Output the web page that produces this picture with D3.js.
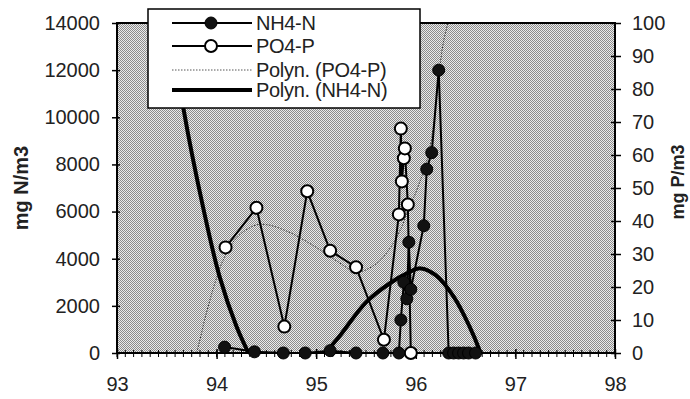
<!DOCTYPE html>
<html><head><meta charset="utf-8">
<script src="https://cdn.jsdelivr.net/npm/d3@7"></script>
<style>html,body{margin:0;padding:0;background:#fff;}svg{display:block;}</style>
</head><body>
<script>
// ---- data ----
const xTicks = [93, 94, 95, 96, 97, 98];
const yLeftTicks = [0, 2000, 4000, 6000, 8000, 10000, 12000, 14000];
const yRightTicks = [0, 10, 20, 30, 40, 50, 60, 70, 80, 90, 100];
const seriesNames = ["NH4-N", "PO4-P", "Polyn. (PO4-P)", "Polyn. (NH4-N)"];

const nh4Dates  = [94.08, 94.38, 94.67, 94.89, 95.14, 95.40, 95.67, 95.83, 95.85, 95.88, 95.91, 95.93, 95.95, 96.08, 96.11, 96.16, 96.23, 96.33, 96.38, 96.43, 96.48, 96.53, 96.60];
const nh4Values = [250,   50,    0,     0,     100,   0,     0,     0,     1400,  3000,  2300,  4700,  2700,  5400,  7800,  8500,  12000, 0,     0,     0,     0,     0,     0];

const po4Dates  = [94.09, 94.40, 94.68, 94.91, 95.14, 95.40, 95.68, 95.83, 95.85, 95.86, 95.88, 95.89, 95.92, 95.95];
const po4Values = [32,    44,    8,     49,    31,    26,    4,     42,    68,    52,    59,    62,    45,    0];

const nh4TrendDates  = [93.45, 93.67, 93.87, 94.03, 94.20, 94.32, 94.50, 94.80, 95.00, 95.10, 95.25, 95.50, 95.74, 95.92, 96.05, 96.20, 96.38, 96.54, 96.64, 96.72];
const nh4TrendValues = [16500, 10300, 6070,  3240,  1120,  0,     -1500, -2000, -800,  0,     800,   2150,  2960,  3400,  3590,  3300,  2390,  1120,  120,   -900];

const po4TrendDates  = [93.74, 93.80, 93.88, 93.97, 94.05, 94.15, 94.28, 94.44, 94.70, 95.00, 95.20, 95.41, 95.60, 95.74, 95.84, 95.92, 96.03, 96.14, 96.27, 96.32, 96.36];
const po4TrendValues = [-6,    0,     10,    20,    27,    33,    37,    39,    37,    32,    28,    24.6,  27,    31.7,  37,    43,    51,    62,    93,    100,   110];

// ---- layout ----
const W = 690, H = 399;
const M = {left: 117, right: 615, top: 23, bottom: 353};
const FONT = "'Liberation Sans', Arial, Helvetica, sans-serif";

const svg = d3.select("body").append("svg").attr("width", W).attr("height", H)
  .style("font-family", FONT);

const x = d3.scaleLinear().domain([93, 98]).range([M.left, M.right]);
const yL = d3.scaleLinear().domain([0, 14000]).range([M.bottom, M.top]);
const yR = d3.scaleLinear().domain([0, 100]).range([M.bottom, M.top]);

const defs = svg.append("defs");
const pat = defs.append("pattern").attr("id", "dots").attr("patternUnits", "userSpaceOnUse")
  .attr("width", 2).attr("height", 2);
pat.append("rect").attr("width", 2).attr("height", 2).attr("fill", "#ebebeb");
pat.append("rect").attr("x", 0).attr("y", 0).attr("width", 1).attr("height", 1).attr("fill", "#8c8c8c");
pat.append("rect").attr("x", 1).attr("y", 1).attr("width", 1).attr("height", 1).attr("fill", "#8c8c8c");
defs.append("clipPath").attr("id", "clip").append("rect")
  .attr("x", M.left).attr("y", M.top).attr("width", M.right - M.left).attr("height", M.bottom - M.top);

// plot background
svg.append("rect").attr("x", M.left).attr("y", M.top)
  .attr("width", M.right - M.left).attr("height", M.bottom - M.top)
  .attr("fill", "url(#dots)");

const plot = svg.append("g").attr("clip-path", "url(#clip)");

// trend lines
const nh4Trend = nh4TrendDates.map((d, i) => [d, nh4TrendValues[i]]);
const po4Trend = po4TrendDates.map((d, i) => [d, po4TrendValues[i]]);
plot.append("path").datum(po4Trend)
  .attr("d", d3.line().x(d => x(d[0])).y(d => yR(d[1])).curve(d3.curveCatmullRom.alpha(0.5)))
  .attr("fill", "none").attr("stroke", "#333").attr("stroke-width", 1).attr("stroke-dasharray", "1.5,1.5");
plot.append("path").datum(nh4Trend)
  .attr("d", d3.line().x(d => x(d[0])).y(d => yL(d[1])).curve(d3.curveCatmullRom.alpha(0.5)))
  .attr("fill", "none").attr("stroke", "#000").attr("stroke-width", 4);

// data series
const nh4 = nh4Dates.map((d, i) => [d, nh4Values[i]]);
const po4 = po4Dates.map((d, i) => [d, po4Values[i]]);
const g2 = svg.append("g");
g2.append("path").datum(po4).attr("d", d3.line().x(d => x(d[0])).y(d => yR(d[1])))
  .attr("fill", "none").attr("stroke", "#000").attr("stroke-width", 2);
g2.append("path").datum(nh4).attr("d", d3.line().x(d => x(d[0])).y(d => yL(d[1])))
  .attr("fill", "none").attr("stroke", "#000").attr("stroke-width", 2);

// axes frame
const frame = svg.append("g").attr("stroke", "#000");
frame.append("rect").attr("x", M.left).attr("y", M.top)
  .attr("width", M.right - M.left).attr("height", M.bottom - M.top)
  .attr("fill", "none").attr("stroke-width", 2);

// left axis
const axL = svg.append("g").attr("transform", `translate(${M.left},0)`)
  .call(d3.axisLeft(yL).tickValues(yLeftTicks).tickSize(5).tickPadding(12).tickFormat(d3.format("d")));
axL.select(".domain").remove();
axL.selectAll(".tick line").attr("x2", -5).attr("x1", 3).attr("stroke-width", 1.5);
axL.selectAll("text").attr("font-size", 20).attr("font-family", FONT).attr("fill", "#222");

// right axis
const axR = svg.append("g").attr("transform", `translate(${M.right},0)`)
  .call(d3.axisRight(yR).tickValues(yRightTicks).tickSize(6).tickPadding(11));
axR.select(".domain").remove();
axR.selectAll(".tick line").attr("x1", -4).attr("x2", 6).attr("stroke-width", 1.5);
axR.selectAll("text").attr("font-size", 20).attr("font-family", FONT).attr("fill", "#222");

// bottom axis: major + minor ticks
const minorTicks = d3.range(0, 61).map(i => 93 + i / 12);
svg.append("g").selectAll("line").data(minorTicks).join("line")
  .attr("x1", d => x(d)).attr("x2", d => x(d))
  .attr("y1", M.bottom - 3).attr("y2", M.bottom + 4)
  .attr("stroke", "#000").attr("stroke-width", 1);
const axB = svg.append("g").attr("transform", `translate(0,${M.bottom})`)
  .call(d3.axisBottom(x).tickValues(xTicks).tickSize(6).tickPadding(18).tickFormat(d3.format("d")));
axB.select(".domain").remove();
axB.selectAll(".tick line").attr("y1", -4).attr("stroke-width", 1.5);
axB.selectAll("text").attr("font-size", 20).attr("font-family", FONT).attr("fill", "#222");

// markers
svg.append("g").selectAll("circle").data(po4).join("circle")
  .attr("cx", d => x(d[0])).attr("cy", d => yR(d[1])).attr("r", 6)
  .attr("fill", "#fff").attr("stroke", "#000").attr("stroke-width", 2);
svg.append("g").selectAll("circle").data(nh4).join("circle")
  .attr("cx", d => x(d[0])).attr("cy", d => yL(d[1])).attr("r", 6)
  .attr("fill", "#111").attr("stroke", "#000").attr("stroke-width", 1);

// axis titles
svg.append("text").attr("transform", `translate(28,188) rotate(-90)`)
  .attr("text-anchor", "middle").attr("font-size", 20).attr("font-weight", "bold")
  .attr("fill", "#222").text("mg N/m3");
svg.append("text").attr("transform", `translate(684,182) rotate(-90)`)
  .attr("text-anchor", "middle").attr("font-size", 18).attr("font-weight", "bold")
  .attr("fill", "#222").text("mg P/m3");

// legend
const leg = svg.append("g");
leg.append("rect").attr("x", 148).attr("y", 9).attr("width", 272).attr("height", 99)
  .attr("fill", "#fff").attr("stroke", "#000").attr("stroke-width", 1.5);
const rowsY = [23, 46, 70, 90];
const lx1 = 172, lx2 = 252, lmx = 211, ltx = 256;
// row 1
leg.append("line").attr("x1", lx1).attr("x2", lx2).attr("y1", rowsY[0]).attr("y2", rowsY[0]).attr("stroke", "#000").attr("stroke-width", 2);
leg.append("circle").attr("cx", lmx).attr("cy", rowsY[0]).attr("r", 6).attr("fill", "#111").attr("stroke", "#000");
// row 2
leg.append("line").attr("x1", lx1).attr("x2", lx2).attr("y1", rowsY[1]).attr("y2", rowsY[1]).attr("stroke", "#000").attr("stroke-width", 2);
leg.append("circle").attr("cx", lmx).attr("cy", rowsY[1]).attr("r", 6).attr("fill", "#fff").attr("stroke", "#000").attr("stroke-width", 2);
// row 3
leg.append("line").attr("x1", lx1).attr("x2", lx2).attr("y1", rowsY[2]).attr("y2", rowsY[2]).attr("stroke", "#555").attr("stroke-width", 1).attr("stroke-dasharray", "1.5,1.5");
// row 4
leg.append("line").attr("x1", lx1).attr("x2", lx2).attr("y1", rowsY[3]).attr("y2", rowsY[3]).attr("stroke", "#000").attr("stroke-width", 4);
leg.selectAll("text.lab").data(seriesNames).join("text").attr("class", "lab")
  .attr("x", ltx).attr("y", (d, i) => rowsY[i] + 7)
  .attr("font-size", 20).attr("fill", "#222").attr("letter-spacing", -0.3).text(d => d);
</script>
</body></html>
